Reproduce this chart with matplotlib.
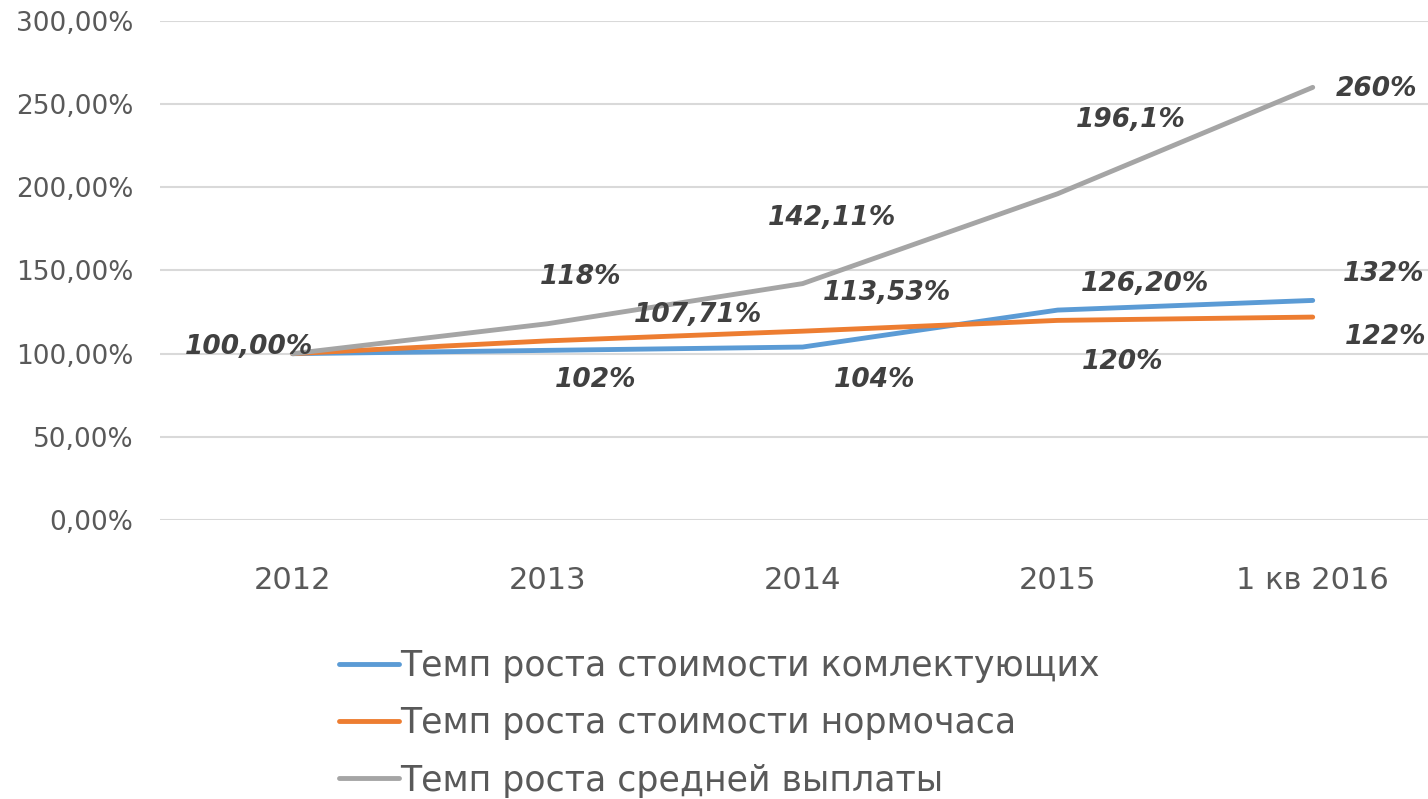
import matplotlib
matplotlib.use('Agg')
import matplotlib.pyplot as plt

# Chart data
categories = ['2012', '2013', '2014', '2015', '1 кв 2016']
parts = [100.0, 102.0, 104.0, 126.2, 132.0]
hour_rate = [100.0, 107.71, 113.53, 120.0, 122.0]
payout = [100.0, 118.0, 142.11, 196.1, 260.0]

parts_labels = ['100,00%', '102%', '104%', '126,20%', '132%']
hour_labels = ['', '107,71%', '113,53%', '120%', '122%']
payout_labels = ['', '118%', '142,11%', '196,1%', '260%']

series_names = ['Темп роста стоимости комлектующих',
                'Темп роста стоимости нормочаса',
                'Темп роста средней выплаты']
yticks = [0, 50, 100, 150, 200, 250, 300]

# label offsets in pixels (dx, dy)
parts_off = [(-44, 7), (48, -30), (72, -33), (87, 26), (71, 26)]
hour_off = [(0, 0), (150, 26), (84, 38), (65, -42), (73, -20)]
payout_off = [(0, 0), (33, 47), (29, 66), (73, 74), (64, -2)]

plt.rcParams['font.family'] = ['DejaVu Sans']

fig = plt.figure(figsize=(14.28, 7.99), dpi=100)
ax = fig.add_axes([0.112, 0.349, 0.893, 0.625])

x = list(range(len(categories)))
colors = ['#5B9BD5', '#ED7D31', '#A5A5A5']
for vals, c, name in zip([parts, hour_rate, payout], colors, series_names):
    ax.plot(x, vals, color=c, lw=3.5, solid_capstyle='round', label=name, zorder=3)

for vals, labs, offs in [(payout, payout_labels, payout_off),
                         (hour_rate, hour_labels, hour_off),
                         (parts, parts_labels, parts_off)]:
    for xi, v, lab, off in zip(x, vals, labs, offs):
        if not lab:
            continue
        ax.annotate(lab, (xi, v), xytext=off, textcoords='offset pixels',
                    ha='center', va='center', fontsize=19, fontweight='bold',
                    fontstyle='italic', color='#404040', zorder=4)

ax.set_xlim(-0.52, 4.48)
ax.set_ylim(0, 300)
ax.set_yticks(yticks)
ax.set_yticklabels(['%d,00%%' % t for t in yticks])
ax.set_xticks(x)
ax.set_xticklabels(categories)
ax.tick_params(axis='both', length=0, colors='#595959')
ax.tick_params(axis='y', pad=19, labelsize=19)
ax.tick_params(axis='x', pad=33, labelsize=22)
ax.grid(axis='y', color='#D9D9D9', lw=1.5)
ax.set_axisbelow(True)
for s in ax.spines.values():
    s.set_visible(False)

leg = fig.legend(loc='upper left', bbox_to_anchor=(0.228, 0.205), frameon=False,
                 fontsize=25, handlelength=1.7, handletextpad=0.05,
                 labelspacing=0.67, labelcolor='#595959', borderaxespad=0)

fig.savefig('out.png', dpi=100)
